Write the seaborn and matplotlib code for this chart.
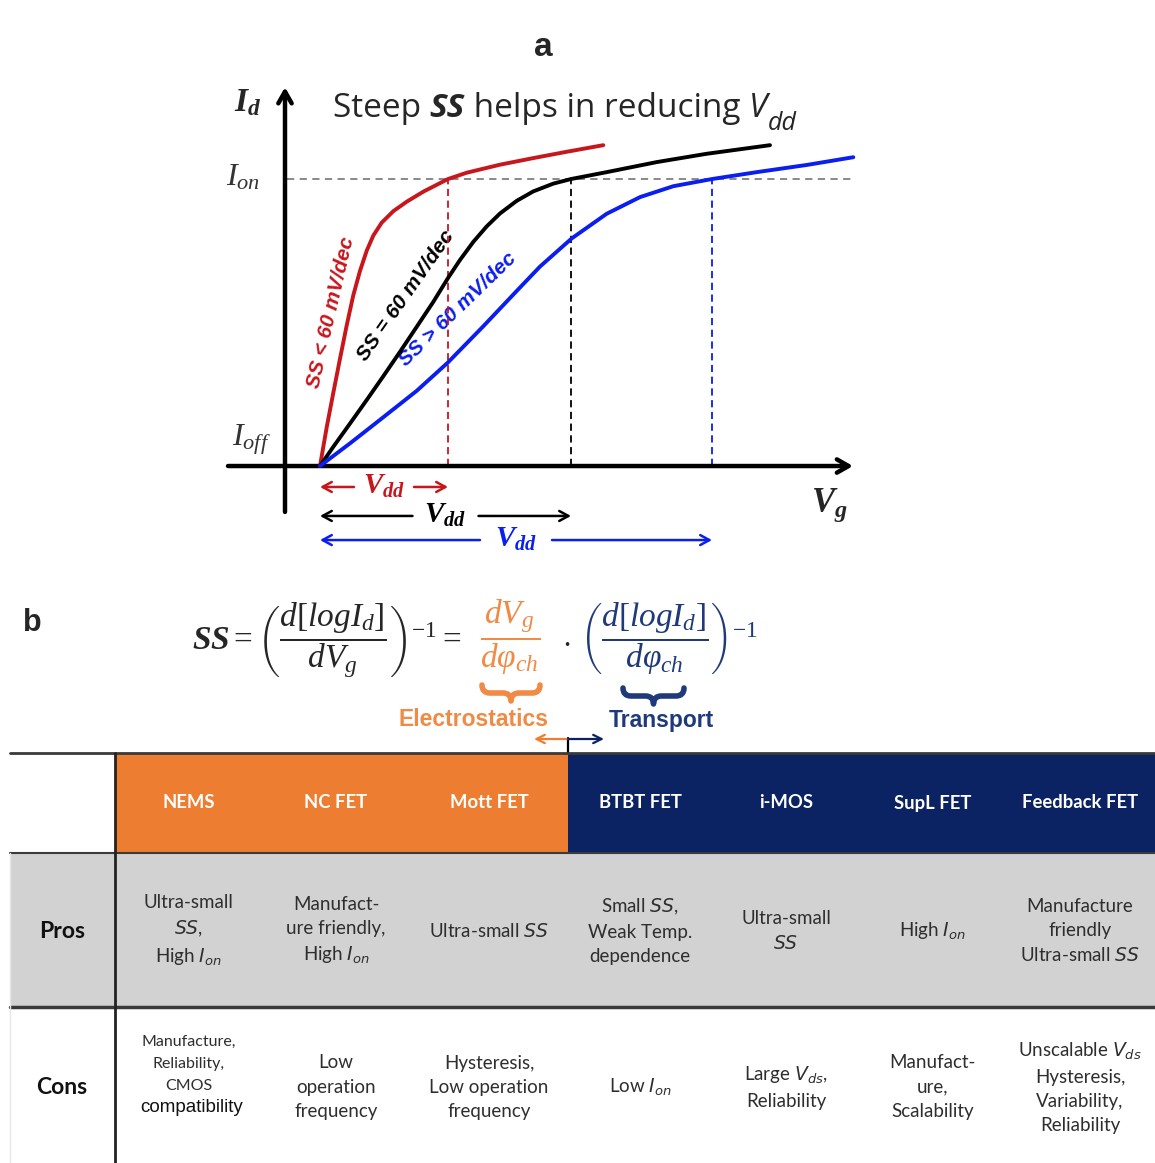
import numpy as np
import pandas as pd
import matplotlib
matplotlib.use("Agg")
import matplotlib.pyplot as plt
import seaborn as sns
from matplotlib.patches import Rectangle, PathPatch
from matplotlib.path import Path

# ---------------- panel a: Id-Vg transfer curves (normalised units) ----------------
vg_steep = [0, 0.067, 0.133, 0.20, 0.267, 0.333, 0.40, 0.467, 0.533, 0.617, 0.733, 0.867,
            1.033, 1.28, 1.467, 1.80, 2.133, 2.467, 2.833]
id_steep = [0, 0.135, 0.255, 0.374, 0.490, 0.595, 0.680, 0.750, 0.803, 0.848, 0.888, 0.921,
            0.956, 1.0, 1.022, 1.050, 1.073, 1.095, 1.118]

vg_ideal = [0, 0.133, 0.30, 0.467, 0.633, 0.80, 0.967, 1.133, 1.28, 1.40, 1.533, 1.667,
            1.80, 1.967, 2.133, 2.333, 2.51, 2.867, 3.367, 3.867, 4.50]
id_ideal = [0, 0.067, 0.148, 0.230, 0.313, 0.398, 0.485, 0.572, 0.655, 0.718, 0.781, 0.835,
            0.880, 0.924, 0.957, 0.984, 1.0, 1.024, 1.059, 1.088, 1.118]

vg_slow = [0, 0.30, 0.633, 0.967, 1.277, 1.633, 1.967, 2.20, 2.517, 2.867, 3.20, 3.533,
           3.92, 4.367, 4.867, 5.333]
id_slow = [0, 0.079, 0.170, 0.262, 0.360, 0.487, 0.610, 0.695, 0.793, 0.879, 0.937, 0.975,
           1.0, 1.024, 1.049, 1.076]

curve_labels = ["SS < 60 mV/dec", "SS = 60 mV/dec", "SS > 60 mV/dec"]
curve_colors = ["#C8161D", "#000000", "#0A1EF0"]
vdd_values = [1.28, 2.51, 3.92]
i_on = 1.0

# ---------------- panel b: steep-slope device comparison ----------------
devices = ["NEMS", "NC FET", "Mott FET", "BTBT FET", "i-MOS", "SupL FET", "Feedback FET"]
mechanism = ["Electrostatics", "Electrostatics", "Electrostatics",
             "Transport", "Transport", "Transport", "Transport"]
pros = ["Ultra-small\n$SS$,\nHigh $I_{on}$",
        "Manufact-\nure friendly,\nHigh $I_{on}$",
        "Ultra-small $SS$",
        "Small $SS$,\nWeak Temp.\ndependence",
        "Ultra-small\n$SS$",
        "High $I_{on}$",
        "Manufacture\nfriendly\nUltra-small $SS$"]
cons = ["Manufacture,\nReliability,\nCMOS\ncompatibility",
        "Low\noperation\nfrequency",
        "Hysteresis,\nLow operation\nfrequency",
        "Low $I_{on}$",
        "Large $V_{ds}$,\nReliability",
        "Manufact-\nure,\nScalability",
        "Unscalable $V_{ds}$\nHysteresis,\nVariability,\nReliability"]

ORANGE = "#ED7D31"
NAVY = "#0B2263"
EQ_ORANGE = "#F08A45"
EQ_NAVY = "#1F3A7A"
TXT = "#2e2e2e"
mech_colors = {"Electrostatics": ORANGE, "Transport": NAVY}

sns.set_theme(style="white")
plt.rcParams["font.family"] = ["Liberation Sans", "DejaVu Sans"]
plt.rcParams["mathtext.fontset"] = "custom"
plt.rcParams["mathtext.rm"] = "Liberation Serif"
plt.rcParams["mathtext.it"] = "Liberation Serif:italic"
plt.rcParams["mathtext.bf"] = "Liberation Serif:bold:italic"

W, H = 1155, 1163
fig = plt.figure(figsize=(W / 100, H / 100), dpi=100)
fig.patch.set_facecolor("white")

# overlay working in pixel units for layout
ov = fig.add_axes([0, 0, 1, 1])
ov.set_xlim(0, W)
ov.set_ylim(H, 0)
ov.axis("off")

# ---------------- panel a ----------------
ax = fig.add_axes([215 / W, 1 - 590 / H, 655 / W, 580 / H])
ax.set_xlim(-1.05, 5.5)
ax.set_ylim(-0.432, 1.589)
ax.axis("off")
ax.patch.set_alpha(0)

df = pd.concat([
    pd.DataFrame({"Vg": vg_steep, "Id": id_steep, "SS": curve_labels[0]}),
    pd.DataFrame({"Vg": vg_ideal, "Id": id_ideal, "SS": curve_labels[1]}),
    pd.DataFrame({"Vg": vg_slow, "Id": id_slow, "SS": curve_labels[2]}),
])
sns.lineplot(data=df, x="Vg", y="Id", hue="SS", palette=dict(zip(curve_labels, curve_colors)),
             estimator=None, sort=False, lw=2.8, legend=False, ax=ax, zorder=4)
for line in ax.lines:
    line.set_solid_joinstyle("round")
    line.set_solid_capstyle("round")

# axes arrows
arrow_kw = dict(arrowstyle="->,head_length=0.7,head_width=0.4", lw=3.2, color="black",
                shrinkA=0, shrinkB=0)
ax.annotate("", xy=(5.33, 0), xytext=(-0.92, 0), arrowprops=arrow_kw)
ax.annotate("", xy=(-0.35, 1.32), xytext=(-0.35, -0.16), arrowprops=arrow_kw)

# on-current reference and supply-voltage markers
ax.plot([-0.33, 5.33], [i_on, i_on], ls=(0, (4, 3)), color="#808080", lw=1.3, zorder=2)
for v, c in zip(vdd_values, curve_colors):
    ax.plot([v, v], [0, i_on], ls=(0, (4, 2.5)), color=c, lw=1.3, zorder=2)

vdd_rows = [-0.073, -0.174, -0.258]
vdd_gaps = [0.30, 0.33, 0.36]
head = "->,head_length=0.55,head_width=0.3"
for v, c, yrow, g in zip(vdd_values, curve_colors, vdd_rows, vdd_gaps):
    mid = v / 2
    ax.annotate("", xy=(0, yrow), xytext=(mid - g, yrow),
                arrowprops=dict(arrowstyle=head, lw=1.8, color=c, shrinkA=0, shrinkB=0))
    ax.annotate("", xy=(v, yrow), xytext=(mid + g, yrow),
                arrowprops=dict(arrowstyle=head, lw=1.8, color=c, shrinkA=0, shrinkB=0))
    ax.text(mid, yrow + 0.005, r"$\mathbf{V_{dd}}$", color=c, fontsize=21,
            ha="center", va="center")

# curve annotations
label_pos = [(331, 312, 77), (406, 296, 55), (458, 309, 44)]
for (px, py, rot), lab, c in zip(label_pos, curve_labels, curve_colors):
    ov.text(px, py, lab, color=c, fontsize=15, fontweight="bold", fontstyle="italic",
            rotation=rot, ha="center", va="center", rotation_mode="anchor")

ov.text(248, 103, r"$\mathbf{I_d}$", fontsize=24, ha="center", va="center")
ov.text(243, 178, r"$\mathit{I_{on}}$", fontsize=23, ha="center", va="center", color="#333333")
ov.text(252, 440, r"$\mathit{I_{off}}$", fontsize=23, ha="center", va="center", color="#333333")
ov.text(829, 505, r"$\mathbf{V_g}$", fontsize=25, ha="center", va="center")
ov.text(543, 48, "a", fontsize=24, fontweight="bold", ha="center", va="center")

# panel a title built from styled pieces
TS = 24
t1 = ov.text(333, 117, "Steep ", fontsize=TS, family="Open Sans", va="baseline")
t2 = ov.annotate("SS", xy=(1, 0), xycoords=t1, fontsize=TS, family="Open Sans",
                 fontweight="bold", fontstyle="italic", va="bottom")
t3 = ov.annotate(" helps in reducing ", xy=(1, 0), xycoords=t2, fontsize=TS,
                 family="Open Sans", va="bottom")
t4 = ov.annotate("V", xy=(1, 0), xycoords=t3, fontsize=TS, family="Open Sans",
                 fontstyle="italic", va="bottom")
ov.annotate("dd", xy=(1, 0), xycoords=t4, xytext=(0, -8), textcoords="offset points",
            fontsize=18, family="Open Sans", fontstyle="italic", va="bottom")

# ---------------- panel b: equation ----------------
EQ = 24
ov.text(32, 623, "b", fontsize=22, fontweight="bold", ha="center", va="center")
ov.text(192, 650, r"$\mathbf{SS} = \left(\dfrac{d[logI_d]}{dV_g}\right)^{-1} =$",
        fontsize=EQ, ha="left", va="baseline")
ov.text(510, 650, r"$\dfrac{dV_g}{d\varphi_{ch}}$", fontsize=EQ, color=EQ_ORANGE,
        ha="center", va="baseline")
ov.text(566, 650, r"$\cdot$", fontsize=EQ, ha="center", va="baseline")
ov.text(580, 650, r"$\left(\dfrac{d[logI_d]}{d\varphi_{ch}}\right)^{-1}$", fontsize=EQ,
        color=EQ_NAVY, ha="left", va="baseline")


def brace(x0, x1, ytop, h, color):
    xm = (x0 + x1) / 2
    ym = ytop + h / 2
    verts = [(x0, ytop), (x0, ym), (x0 + h / 2, ym), (xm - h / 2, ym), (xm, ym), (xm, ytop + h),
             (xm, ym), (xm + h / 2, ym), (x1 - h / 2, ym), (x1, ym), (x1, ytop)]
    codes = [Path.MOVETO, Path.CURVE3, Path.CURVE3, Path.LINETO, Path.CURVE3, Path.CURVE3,
             Path.CURVE3, Path.CURVE3, Path.LINETO, Path.CURVE3, Path.CURVE3]
    ov.add_patch(PathPatch(Path(verts, codes), fc="none", ec=color, lw=4, capstyle="round",
                           joinstyle="round"))


brace(482, 540, 685, 16, EQ_ORANGE)
brace(623, 684, 688, 16, EQ_NAVY)
ov.text(473, 719, "Electrostatics", fontsize=16.5, fontweight="bold", color=EQ_ORANGE,
        ha="center", va="center")
ov.text(661, 721, "Transport", fontsize=16.5, fontweight="bold", color=EQ_NAVY,
        ha="center", va="center")
ov.annotate("", xy=(534, 739), xytext=(568, 739),
            arrowprops=dict(arrowstyle="->,head_length=0.5,head_width=0.25", lw=1.6,
                            color=ORANGE, shrinkA=0, shrinkB=0))
ov.annotate("", xy=(604, 739), xytext=(568, 739),
            arrowprops=dict(arrowstyle="->,head_length=0.5,head_width=0.25", lw=1.6,
                            color=NAVY, shrinkA=0, shrinkB=0))
ov.plot([568, 568], [738, 753], color="black", lw=1.6)

# ---------------- panel b: table ----------------
col_edges = [10, 115, 262, 410, 568, 712, 860, 1005, 1155]
row_edges = [753, 853, 1007, 1163]
BODY = 13.5
LS = 1.5

ov.add_patch(Rectangle((col_edges[0], row_edges[1]), col_edges[-1] - col_edges[0],
                       row_edges[2] - row_edges[1], fc="#D2D2D2", ec="none"))
for i, (dev, mech) in enumerate(zip(devices, mechanism)):
    xl, xr = col_edges[i + 1], col_edges[i + 2]
    ov.add_patch(Rectangle((xl, row_edges[0]), xr - xl, row_edges[1] - row_edges[0],
                           fc=mech_colors[mech], ec="none"))
    xc = (xl + xr) / 2
    ov.text(xc, 803, dev, color="white", fontsize=13.3, fontweight="bold", family="Lato",
            ha="center", va="center")
    ov.text(xc, 931, pros[i], color=TXT, fontsize=BODY, family="Lato", ha="center",
            va="center", linespacing=LS, math_fontfamily="dejavusans", multialignment="center")
    if i == 0:
        # first cell mixes a small-print block with a final line in a wider face
        lines = cons[i].split("\n")
        ov.text(xc, 1064, "\n".join(lines[:-1]), color=TXT, fontsize=11.5, family="Lato",
                ha="center", va="center", linespacing=1.72, multialignment="center")
        ov.text(xc + 3, 1108, lines[-1], color="#111111", fontsize=13.5,
                family="Liberation Sans", ha="center", va="center")
    else:
        ov.text(xc, 1087, cons[i], color=TXT, fontsize=BODY, family="Lato", ha="center",
                va="center", linespacing=LS, math_fontfamily="dejavusans",
                multialignment="center")

ov.text(62, 931, "Pros", fontsize=16.5, fontweight="bold", family="Lato", ha="center",
        va="center", color="#111111")
ov.text(62, 1088, "Cons", fontsize=16.5, fontweight="bold", family="Lato", ha="center",
        va="center", color="#111111")

ov.plot([10, 1155], [753, 753], color="#3a3a3a", lw=2)
ov.plot([10, 1155], [853, 853], color="#3a3a3a", lw=1.5)
ov.plot([10, 1155], [1007, 1007], color="#3a3a3a", lw=2.5)
ov.plot([115, 115], [753, 1163], color="#222222", lw=2)
ov.plot([10, 10], [853, 1163], color="#E6E6E6", lw=1)

fig.savefig("out.png", dpi=100, facecolor="white")
